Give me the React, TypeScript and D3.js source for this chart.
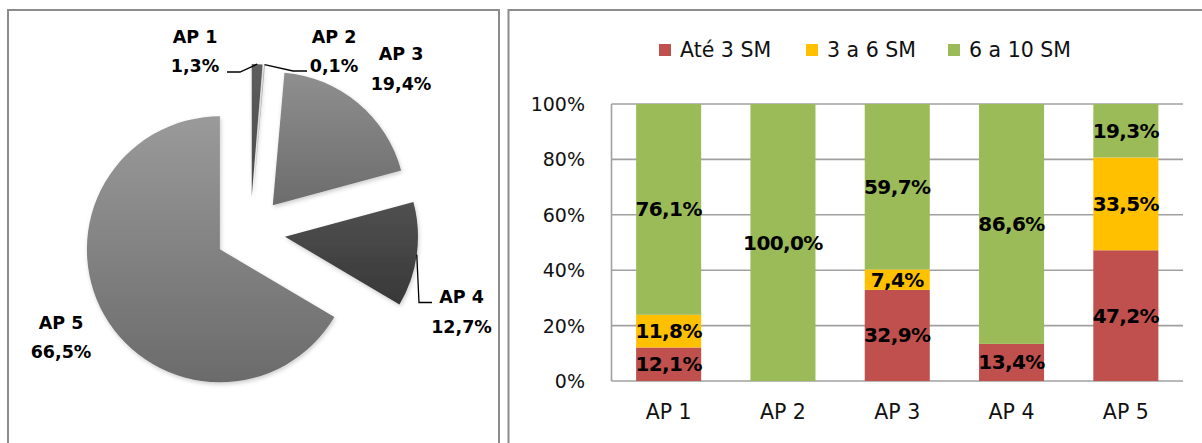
import React from "react";
import * as d3 from "d3";

// Share of households per planning area (pie)
const areas = ["AP 1", "AP 2", "AP 3", "AP 4", "AP 5"];
const areaShare = [1.3, 0.1, 19.4, 12.7, 66.5];

// Income bands per planning area (stacked 100% bars)
const bands = ["Até 3 SM", "3 a 6 SM", "6 a 10 SM"];
const ate3 = [12.1, 0, 32.9, 13.4, 47.2];
const de3a6 = [11.8, 0, 7.4, 0, 33.5];
const de6a10 = [76.1, 100, 59.7, 86.6, 19.3];
const yTicks = [0, 20, 40, 60, 80, 100];

const bandColors = ["#C0504D", "#FFC000", "#9BBB59"];
const sliceTop = ["#5e5e5e", "#b0b0b0", "#8f8f8f", "#505050", "#9a9a9a"];
const sliceBottom = ["#4a4a4a", "#9a9a9a", "#6c6c6c", "#383838", "#6b6b6b"];

const fmt = (v: number) => v.toFixed(1).replace(".", ",") + "%";

// Label placement around the pie: text centre x, two baselines, optional leader elbow/end
const pieLabelLayout = [
  { x: 195, y1: 42.7, y2: 71.7, elbow: [240, 72], end: [227, 72] },
  { x: 334, y1: 42.7, y2: 71.7, elbow: [293, 71], end: [307, 71] },
  { x: 401, y1: 60, y2: 89.5, elbow: null, end: null },
  { x: 461.5, y1: 302.7, y2: 332.7, elbow: [419, 302.5], end: [432, 302.5] },
  { x: 61, y1: 329.3, y2: 358.3, elbow: null, end: null },
];

function PieChart() {
  const cx = 250.3;
  const cy = 232;
  const r = 133;
  const explode = 35;
  const pie = d3.pie<number>().sort(null).value((d) => d);
  const arcs = pie(areaShare);
  const arcGen = d3.arc<d3.PieArcDatum<number>>().innerRadius(0).outerRadius(r);
  const font = "'DejaVu Sans', sans-serif";

  return (
    <g>
      <defs>
        {arcs.map((_, i) => (
          <linearGradient key={i} id={`slice-${i}`} x1="0" y1="0" x2="0" y2="1">
            <stop offset="0" stopColor={sliceTop[i]} />
            <stop offset="1" stopColor={sliceBottom[i]} />
          </linearGradient>
        ))}
        <filter id="pie-shadow" x="-20%" y="-20%" width="140%" height="140%">
          <feDropShadow dx="1" dy="2" stdDeviation="2" floodColor="#000" floodOpacity="0.2" />
        </filter>
      </defs>
      {arcs.map((a, i) => {
        const mid = (a.startAngle + a.endAngle) / 2;
        const ox = cx + explode * Math.sin(mid);
        const oy = cy - explode * Math.cos(mid);
        return (
          <path
            key={i}
            d={arcGen(a) || ""}
            transform={`translate(${ox},${oy})`}
            fill={`url(#slice-${i})`}
            filter="url(#pie-shadow)"
          />
        );
      })}
      {arcs.map((a, i) => {
        const L = pieLabelLayout[i];
        const mid = (a.startAngle + a.endAngle) / 2;
        const sx = cx + (explode + r) * Math.sin(mid);
        const sy = cy - (explode + r) * Math.cos(mid);
        return (
          <g key={i}>
            {L.elbow && L.end && (
              <polyline
                points={`${sx},${sy} ${L.elbow[0]},${L.elbow[1]} ${L.end[0]},${L.end[1]}`}
                fill="none"
                stroke="#000"
                strokeWidth={1.3}
              />
            )}
            <text x={L.x} y={L.y1} textAnchor="middle" fontFamily={font} fontWeight="bold" fontSize={17.5} fill="#000">
              {areas[i]}
            </text>
            <text x={L.x} y={L.y2} textAnchor="middle" fontFamily={font} fontWeight="bold" fontSize={17.5} fill="#000">
              {fmt(areaShare[i])}
            </text>
          </g>
        );
      })}
    </g>
  );
}

function StackedBars() {
  const x0 = 611.5;
  const x1 = 1183;
  const yTop = 104;
  const yBottom = 381;
  const x = d3.scaleBand<string>().domain(areas).range([x0, x1]).paddingInner(0.431).paddingOuter(0.2155);
  const y = d3.scaleLinear().domain([0, 100]).range([yBottom, yTop]);
  const rows = areas.map((a, i) => ({ area: a, b0: ate3[i], b1: de3a6[i], b2: de6a10[i] }));
  const series = d3.stack<any>().keys(["b0", "b1", "b2"])(rows);
  const font = "'DejaVu Sans', sans-serif";
  const legendX = [659, 806, 948];

  return (
    <g>
      {yTicks.map((t) => (
        <g key={t}>
          <line x1={x0} x2={x1} y1={y(t)} y2={y(t)} stroke="#a0a0a0" strokeWidth={1.6} />
          <text x={585} y={y(t)} textAnchor="end" dominantBaseline="central" fontFamily={font} fontSize={19} fill="#111">
            {t}%
          </text>
        </g>
      ))}
      <line x1={x0} x2={x0} y1={yTop} y2={yBottom} stroke="#a0a0a0" strokeWidth={1.6} />
      {series.map((s, si) =>
        s.map((d, di) => {
          const v = d[1] - d[0];
          if (v <= 0) return null;
          return (
            <rect
              key={`${si}-${di}`}
              x={x(areas[di])!}
              y={y(d[1])}
              width={x.bandwidth()}
              height={y(d[0]) - y(d[1])}
              fill={bandColors[si]}
            />
          );
        })
      )}
      {series.map((s, si) =>
        s.map((d, di) => {
          const v = d[1] - d[0];
          if (v <= 0) return null;
          const bx = x(areas[di])! + x.bandwidth() / 2;
          return (
            <text
              key={`t-${si}-${di}`}
              x={bx}
              y={y((d[0] + d[1]) / 2)}
              textAnchor="middle"
              dominantBaseline="central"
              fontFamily={font}
              fontWeight="bold"
              fontSize={20}
              letterSpacing={-0.6}
              fill="#000"
            >
              {fmt(v)}
            </text>
          );
        })
      )}
      {areas.map((a) => (
        <text
          key={a}
          x={x(a)! + x.bandwidth() / 2}
          y={412}
          textAnchor="middle"
          dominantBaseline="central"
          fontFamily={font}
          fontSize={20.5}
          fill="#111"
        >
          {a}
        </text>
      ))}
      {bands.map((b, i) => (
        <g key={b}>
          <rect x={legendX[i]} y={44} width={12} height={12} fill={bandColors[i]} />
          <text x={legendX[i] + 21} y={50} dominantBaseline="central" fontFamily={font} fontSize={20.5} fill="#111">
            {b}
          </text>
        </g>
      ))}
    </g>
  );
}

export default function App() {
  return (
    <svg width={1202} height={443} style={{ position: "absolute", left: 0, top: 0, background: "#fff" }}>
      <rect x={0} y={0} width={1202} height={443} fill="#fff" />
      <rect x={8} y={10} width={491} height={460} fill="#fff" stroke="#8c8c8c" strokeWidth={2} />
      <rect x={508.5} y={10} width={720} height={460} fill="#fff" stroke="#8c8c8c" strokeWidth={2} />
      <PieChart />
      <StackedBars />
    </svg>
  );
}
